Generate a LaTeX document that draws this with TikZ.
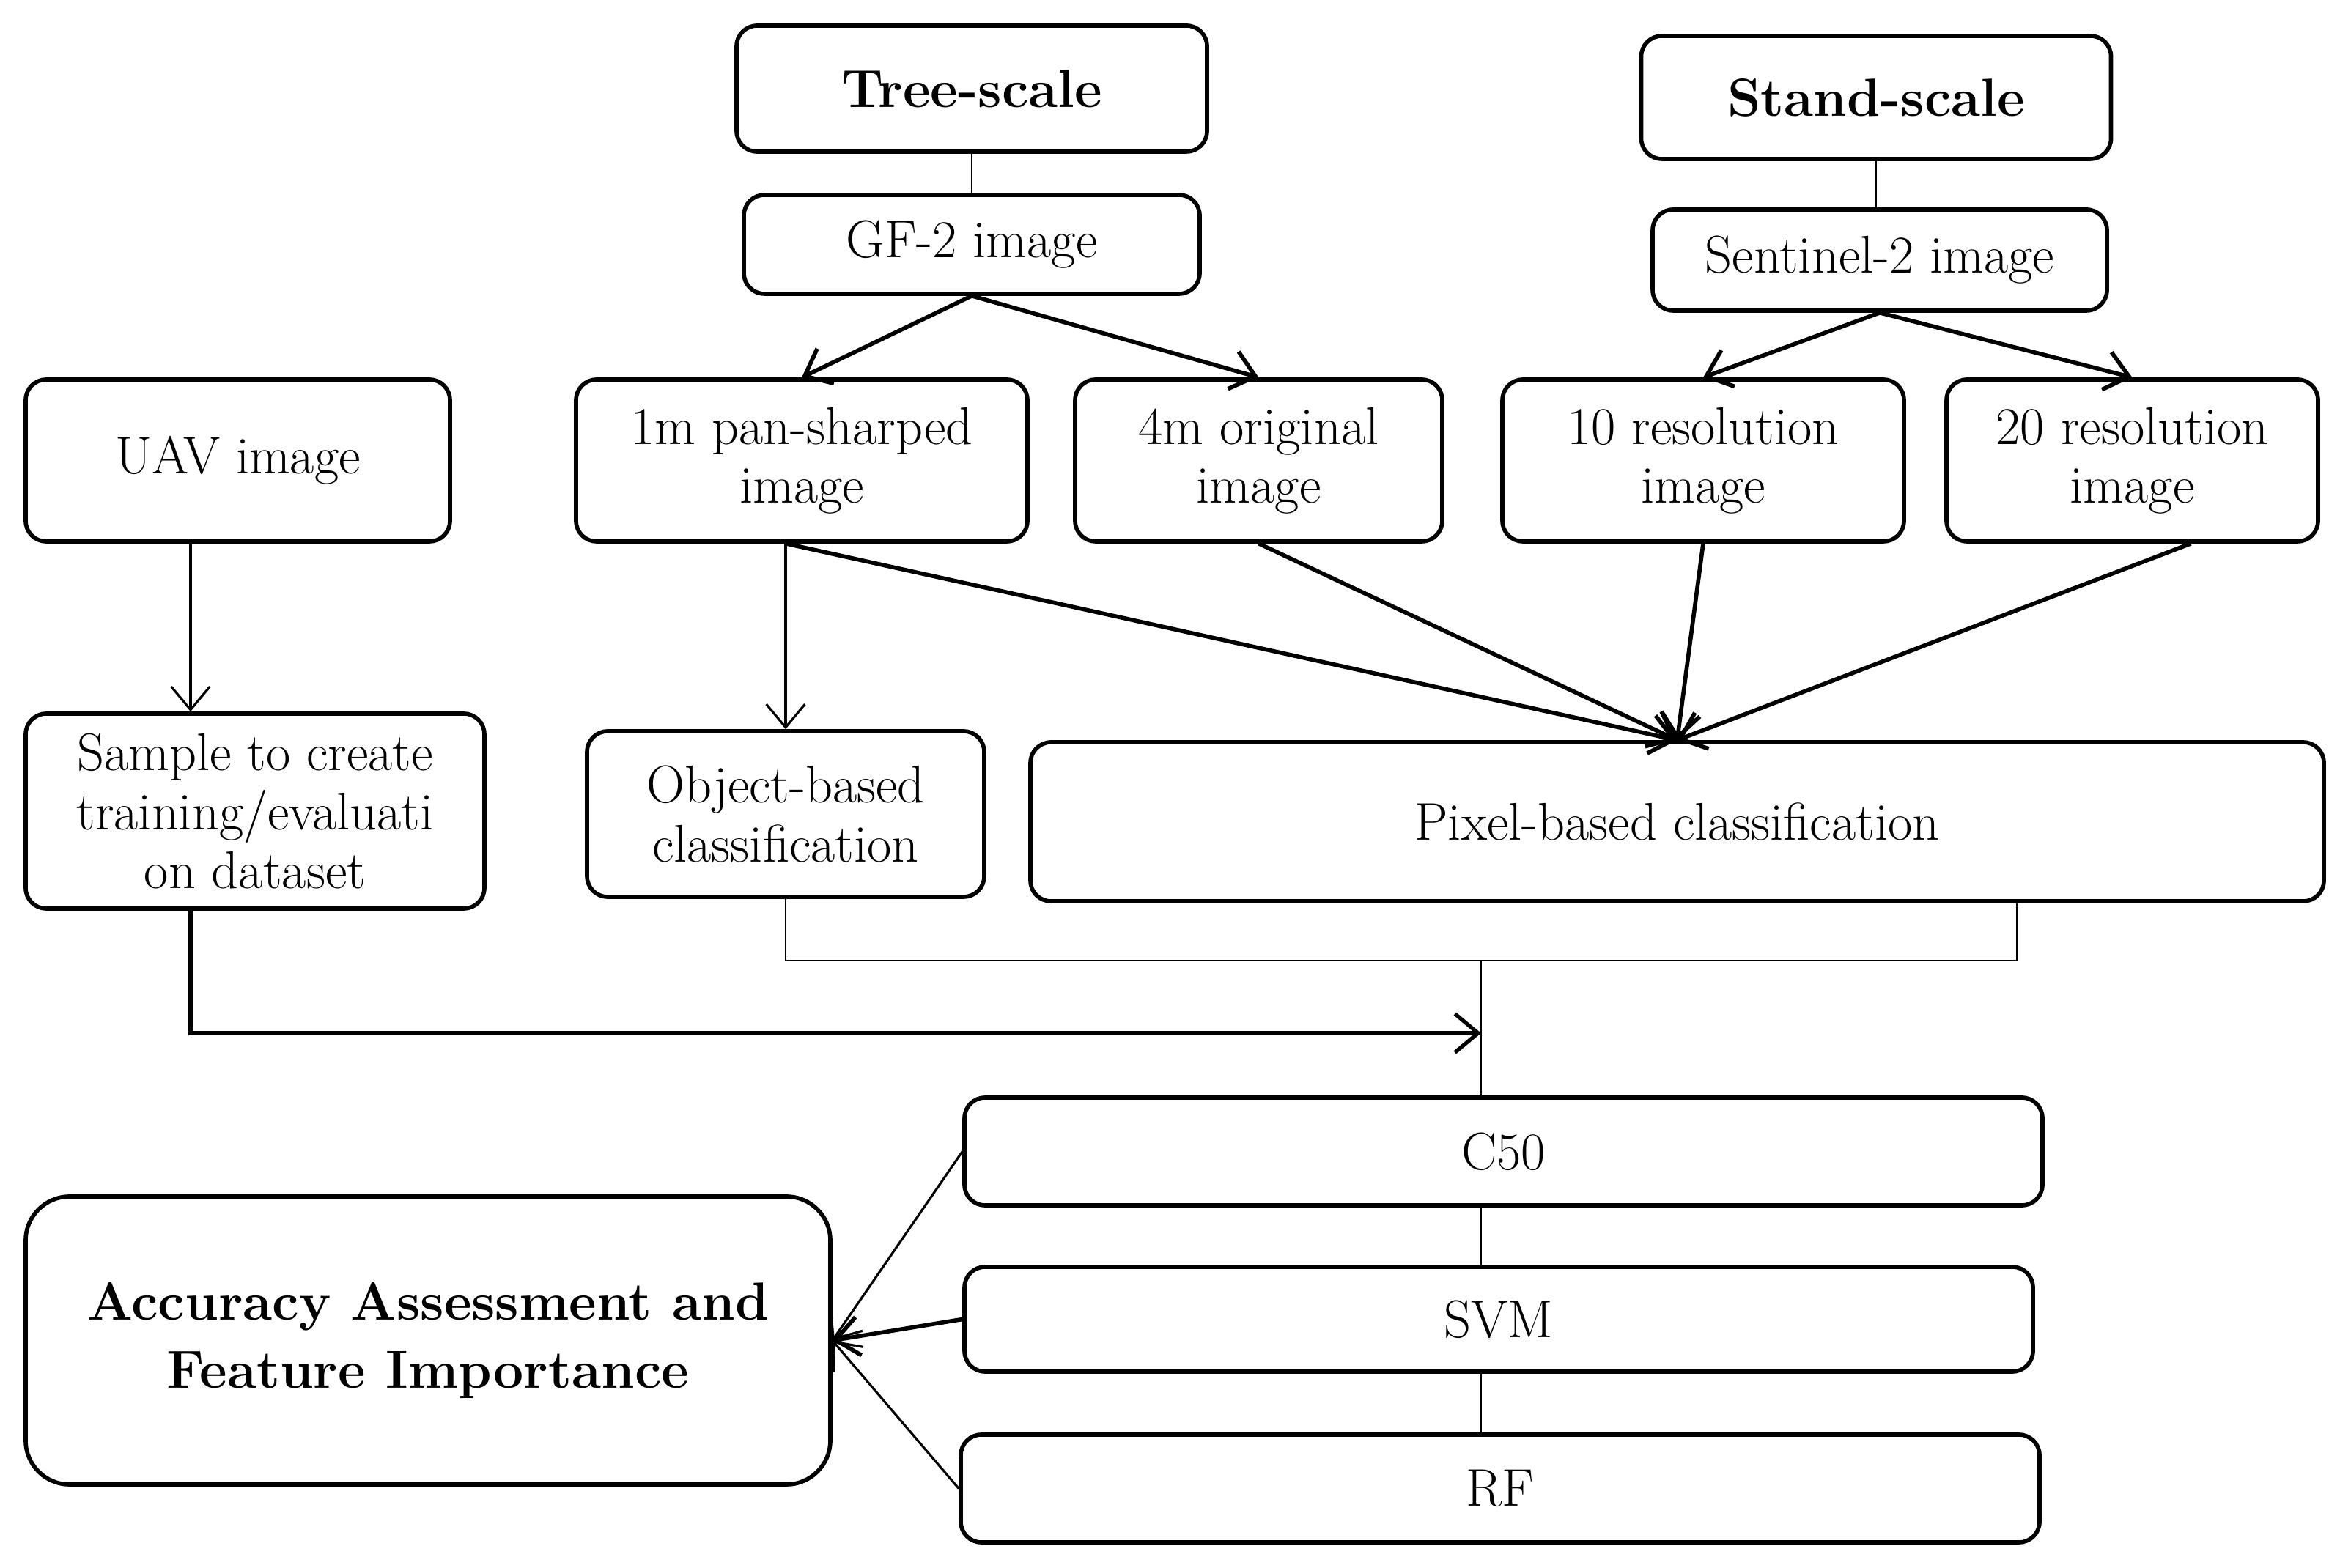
\documentclass[tikz,border=0pt]{standalone}
\usetikzlibrary{arrows.meta}

\begin{document}
\begin{tikzpicture}[
	box/.style={draw, line width=1.6pt, rounded corners=8pt, align=center, inner sep=0pt, font=\fontsize{20.6}{22.8}\selectfont},
	title/.style={box, font=\fontsize{20.8}{26.5}\bfseries\selectfont},
	thinln/.style={line width=0.7pt},
	thinarr/.style={line width=0.9pt, -{Straight Barb[length=9pt,width=15pt]}},
	bigarr/.style={line width=1.6pt, -{Straight Barb[length=9pt,width=15pt]}},
]
	\useasboundingbox (0,0) rectangle (32.08,21.39);

	% scales and sensors
	\node[title, minimum width=6.42cm, minimum height=1.72cm] (tree) at (13.26,20.18) {Tree-scale};
	\node[box, minimum width=6.22cm, minimum height=1.35cm] (gf) at (13.26,18.055) {GF-2 image};
	\node[title, minimum width=6.41cm, minimum height=1.68cm] (stand) at (25.6,20.06) {Stand-scale};
	\node[box, minimum width=6.2cm, minimum height=1.38cm] (senti) at (25.65,17.84) {Sentinel-2 image};

	% images
	\node[box, minimum width=5.79cm, minimum height=2.21cm] (uav) at (3.245,15.105) {UAV image};
	\node[box, minimum width=6.16cm, minimum height=2.21cm] (pan) at (10.94,15.105) {1m pan-sharped\\image};
	\node[box, minimum width=5.01cm, minimum height=2.21cm] (orig) at (17.175,15.105) {4m original\\image};
	\node[box, minimum width=5.48cm, minimum height=2.21cm] (res10) at (23.24,15.105) {10 resolution\\image};
	\node[box, minimum width=5.07cm, minimum height=2.21cm] (res20) at (29.095,15.105) {20 resolution\\image};

	% classification
	\node[box, minimum width=6.26cm, minimum height=2.66cm] (sample) at (3.48,10.32) {Sample to create\\training/evaluati\\on dataset};
	\node[box, minimum width=5.42cm, minimum height=2.26cm] (obj) at (10.72,10.28) {Object-based\\classification};
	\node[box, minimum width=17.65cm, minimum height=2.17cm] (pixel) at (22.885,10.175) {Pixel-based classification};

	% classifiers
	\node[box, minimum width=14.71cm, minimum height=1.47cm] (c50) at (20.515,5.675) {C50};
	\node[box, minimum width=14.58cm, minimum height=1.43cm] (svm) at (20.45,3.385) {SVM};
	\node[box, minimum width=14.72cm, minimum height=1.47cm] (rf) at (20.47,1.075) {RF};
	\node[title, rounded corners=0.6cm, minimum width=10.98cm, minimum height=3.93cm] (acc) at (5.84,3.095) {Accuracy Assessment and\\Feature Importance};

	\coordinate (join) at (20.21,8.28);
	\coordinate (pixdrop) at (27.52,8.28);
	\coordinate (turn) at (2.6,7.29);

	\draw [thinln] (tree) -- (gf);
	\draw [thinln] (stand.south) -- (stand.south |- senti.north);
	\draw [bigarr] (gf.south) -- (pan.north);
	\draw [bigarr] (gf.south) -- (orig.north);
	\draw [bigarr] (senti.south) -- (res10.north);
	\draw [bigarr] (senti.south) -- (res20.north);

	\draw [thinarr] (turn |- uav.south) -- (turn |- sample.north);
	\draw [thinarr] (obj.north |- pan.south) -- (obj.north);

	\draw [bigarr] (obj.north |- pan.south) -- (pixel.north);
	\draw [bigarr] (orig.south) -- (pixel.north);
	\draw [bigarr] (res10.south) -- (pixel.north);
	\draw [bigarr] ([xshift=8mm]res20.south) -- (pixel.north);

	\draw [thinln] (obj.south) |- (pixdrop) -- (pixdrop |- pixel.south);
	\draw [thinln] (join) -- (join |- c50.north);
	\draw [line width=1.5pt, -{Straight Barb[length=9pt,width=15pt]}] (turn |- sample.south) -- (turn) -- (join |- turn);

	\draw [thinln] (join |- c50.south) -- (join |- svm.north);
	\draw [thinln] (join |- svm.south) -- (join |- rf.north);

	\draw [thinarr] (c50.west) -- (acc.east);
	\draw [bigarr] (svm.west) -- (acc.east);
	\draw [thinarr] (rf.west) -- (acc.east);
\end{tikzpicture}
\end{document}
